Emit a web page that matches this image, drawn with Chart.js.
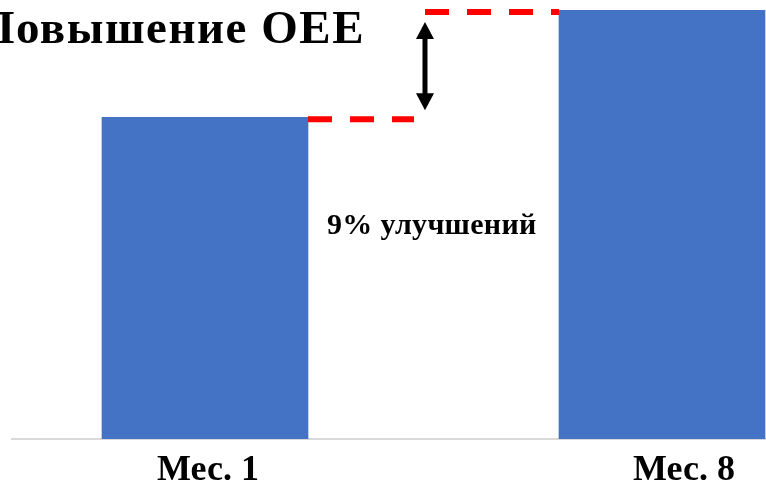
<!DOCTYPE html>
<html>
<head>
<meta charset="utf-8">
<script src="https://cdn.jsdelivr.net/npm/chart.js@4"></script>
<style>
  html, body { margin: 0; padding: 0; background: #fff; overflow: hidden; }
  #wrap { position: relative; width: 766px; height: 481px; overflow: hidden; }
  .note { position: absolute; font-family: "Liberation Serif", serif; font-weight: bold; color: #000; white-space: nowrap; line-height: 1; }
  #title { right: 401px; top: 4px; font-size: 47px; letter-spacing: 1.5px; }
  #gain { left: 327px; top: 209px; font-size: 30px; letter-spacing: 0.3px; }
</style>
</head>
<body>
<div id="wrap">
  <canvas id="c" width="766" height="481"></canvas>
  <div class="note" id="title">Повышение OEE</div>
  <div class="note" id="gain">9% улучшений</div>
</div>
<script>
const categories = ['Мес. 1', 'Мес. 8'];
const oee = [27, 36];
const arrowAt = 0.4814; // x position of the gap arrow, in bar index units

// red dashed levels + black double arrow between the two bars
const gapMarks = {
  id: 'gapMarks',
  afterDatasetsDraw(chart) {
    const { ctx, scales: { x, y } } = chart;
    const bars = chart.getDatasetMeta(0).data;
    const y1 = y.getPixelForValue(oee[0]) + 2;
    const y2 = y.getPixelForValue(oee[1]) + 2;
    const left = bars[0].x + bars[0].width / 2;
    const right = bars[1].x - bars[1].width / 2;
    const ax = x.getPixelForValue(arrowAt);

    ctx.save();
    ctx.strokeStyle = '#ff0000';
    ctx.lineWidth = 6;
    ctx.setLineDash([24, 18]);
    ctx.beginPath(); ctx.moveTo(left, y1); ctx.lineTo(ax - 11, y1); ctx.stroke();
    ctx.beginPath(); ctx.moveTo(ax, y2); ctx.lineTo(right, y2); ctx.stroke();

    const top = y2 + 10, bottom = y1 - 9, head = 17, hw = 9;
    ctx.setLineDash([]);
    ctx.strokeStyle = '#000';
    ctx.fillStyle = '#000';
    ctx.lineWidth = 5;
    ctx.beginPath(); ctx.moveTo(ax, top + head - 2); ctx.lineTo(ax, bottom - head + 2); ctx.stroke();
    ctx.beginPath(); ctx.moveTo(ax, top); ctx.lineTo(ax - hw, top + head); ctx.lineTo(ax + hw, top + head); ctx.closePath(); ctx.fill();
    ctx.beginPath(); ctx.moveTo(ax, bottom); ctx.lineTo(ax - hw, bottom - head); ctx.lineTo(ax + hw, bottom - head); ctx.closePath(); ctx.fill();
    ctx.restore();
  }
};

const ctx = document.getElementById('c').getContext('2d');
new Chart(ctx, {
  type: 'bar',
  data: {
    datasets: [{
      data: oee.map((v, i) => ({ x: i, y: v })),
      backgroundColor: '#4472C4',
      barThickness: 206
    }]
  },
  options: {
    responsive: false,
    animation: false,
    layout: { padding: { left: 12, right: 0, top: 10, bottom: 0 } },
    plugins: { legend: { display: false }, tooltip: { enabled: false } },
    scales: {
      x: {
        type: 'linear', min: -0.4223, max: 1.2276, offset: false,
        grid: { display: false, drawTicks: false, offset: false },
        border: { display: true, color: '#d9d9d9', width: 2 },
        ticks: { display: false },
        afterFit: (s) => { s.height = 0; }
      },
      xl: {
        type: 'linear', position: 'bottom', min: -0.4118, max: 1.1723, offset: false,
        grid: { display: false, drawTicks: false, offset: false },
        border: { display: false },
        ticks: {
          color: '#000', padding: 10,
          font: { family: 'Liberation Serif', size: 36, weight: 'bold' },
          callback: (v) => categories[v]
        },
        afterBuildTicks: (s) => { s.ticks = categories.map((c, i) => ({ value: i })); },
        afterFit: (s) => { s.height = 42; }
      },
      y: { display: false, min: 0, max: 36 }
    }
  },
  plugins: [gapMarks]
});
</script>
</body>
</html>
